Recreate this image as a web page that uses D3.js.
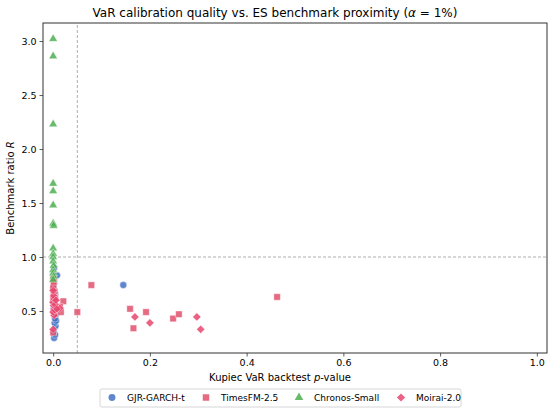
<!DOCTYPE html>
<html lang="en">
<head>
    <meta charset="UTF-8">
    <title>VaR calibration vs ES benchmark proximity</title>
    <script src="https://d3js.org/d3.v7.min.js"></script>
    <style>
        body { margin: 0; background: #fff; }
        svg { font-family: "DejaVu Sans", sans-serif; }
    </style>
</head>
<body>
<div id="chart"></div>
<script>
    // [Kupiec p-value, benchmark ratio R] per model
    const garchPoints = [
        [0.002, 0.25], [0.004, 0.28], [0.001, 0.31], [0.005, 0.36], [0.003, 0.39],
        [0.006, 0.41], [0.004, 0.43], [0.006, 0.47], [0.001, 0.52], [0.003, 0.55],
        [0.000, 0.58], [0.002, 0.62], [0.004, 0.66], [0.001, 0.72], [0.002, 0.90],
        [0.008, 0.83], [0.145, 0.74]
    ];
    const timesfmPoints = [
        [0.463, 0.63], [0.079, 0.74], [0.050, 0.49], [0.159, 0.52], [0.192, 0.49],
        [0.166, 0.34], [0.248, 0.43], [0.260, 0.47], [0.021, 0.59], [0.014, 0.54],
        [0.016, 0.49], [0.000, 0.80], [0.002, 0.77], [0.001, 0.74], [0.000, 0.71],
        [0.003, 0.68], [0.001, 0.65], [0.004, 0.62], [0.000, 0.60], [0.002, 0.57],
        [0.005, 0.53], [0.001, 0.50], [0.003, 0.47], [0.000, 0.30]
    ];
    const chronosPoints = [
        [0.000, 3.02], [0.000, 2.86], [0.000, 2.23], [0.000, 1.68], [0.000, 1.61],
        [0.000, 1.48], [0.000, 1.31], [0.001, 1.29], [0.000, 1.08], [0.000, 1.03],
        [0.000, 1.00], [0.000, 0.96], [0.001, 0.92], [0.000, 0.88], [0.000, 0.85],
        [0.001, 0.82], [0.000, 0.79]
    ];
    const moiraiPoints = [
        [0.169, 0.445], [0.200, 0.39], [0.297, 0.445], [0.305, 0.33], [0.014, 0.525],
        [0.000, 0.33], [0.002, 0.46], [0.000, 0.49], [0.003, 0.51],
        [0.001, 0.55], [0.000, 0.58], [0.002, 0.61], [0.001, 0.64], [0.000, 0.69],
        [0.004, 0.56], [0.008, 0.52], [0.006, 0.60]
    ];

    const modelNames = ["GJR-GARCH-t", "TimesFM-2.5", "Chronos-Small", "Moirai-2.0"];
    const xTicks = [0.0, 0.2, 0.4, 0.6, 0.8, 1.0];
    const yTicks = [0.5, 1.0, 1.5, 2.0, 2.5, 3.0];
    const pThreshold = 0.05;
    const ratioThreshold = 1.0;

    const series = [
        {name: modelNames[0], points: garchPoints, color: "#4472c4", shape: d3.symbolCircle, size: 38, rot: 0},
        {name: modelNames[1], points: timesfmPoints, color: "#e0506c", shape: d3.symbolSquare, size: 42, rot: 0},
        {name: modelNames[2], points: chronosPoints, color: "#4caf50", shape: d3.symbolTriangle, size: 32, rot: 0},
        {name: modelNames[3], points: moiraiPoints, color: "#e8466e", shape: d3.symbolSquare, size: 34, rot: 45}
    ];

    const width = 550, height = 410;
    const margin = {top: 23, right: 3, bottom: 57, left: 43};

    const svg = d3.select("#chart").append("svg")
        .attr("width", width)
        .attr("height", height);

    const x = d3.scaleLinear().domain([-0.021, 1.021]).range([margin.left, width - margin.right]);
    const y = d3.scaleLinear().domain([0.111, 3.167]).range([height - margin.bottom, margin.top]);

    // reference lines
    svg.append("line")
        .attr("x1", x(pThreshold)).attr("x2", x(pThreshold))
        .attr("y1", y.range()[0]).attr("y2", y.range()[1])
        .attr("stroke", "#999").attr("stroke-width", 0.8).attr("stroke-dasharray", "3,2");
    svg.append("line")
        .attr("x1", x.range()[0]).attr("x2", x.range()[1])
        .attr("y1", y(ratioThreshold)).attr("y2", y(ratioThreshold))
        .attr("stroke", "#999").attr("stroke-width", 0.8).attr("stroke-dasharray", "3,2");

    // points
    series.forEach(s => {
        svg.append("g")
            .selectAll("path")
            .data(s.points)
            .join("path")
            .attr("d", d3.symbol().type(s.shape).size(s.size))
            .attr("transform", d => `translate(${x(d[0])},${y(d[1])}) rotate(${s.rot})`)
            .attr("fill", s.color)
            .attr("fill-opacity", 0.85)
            .attr("stroke", "#fff")
            .attr("stroke-width", 0.4);
    });

    // axes
    const xAxis = svg.append("g")
        .attr("transform", `translate(0,${height - margin.bottom})`)
        .call(d3.axisBottom(x).tickValues(xTicks).tickFormat(d3.format(".1f")).tickSize(3.5).tickPadding(3));
    const yAxis = svg.append("g")
        .attr("transform", `translate(${margin.left},0)`)
        .call(d3.axisLeft(y).tickValues(yTicks).tickFormat(d3.format(".1f")).tickSize(3.5).tickPadding(3));

    [xAxis, yAxis].forEach(a => {
        a.select(".domain").remove();
        a.selectAll(".tick line").attr("stroke", "#333").attr("stroke-width", 0.8);
        a.selectAll(".tick text").attr("fill", "#000").style("font-size", "9.5px").style("font-family", "DejaVu Sans");
    });

    // frame
    svg.append("rect")
        .attr("x", margin.left).attr("y", margin.top)
        .attr("width", width - margin.left - margin.right)
        .attr("height", height - margin.top - margin.bottom)
        .attr("fill", "none").attr("stroke", "#333").attr("stroke-width", 1);

    // title and labels
    const title = svg.append("text")
        .attr("x", 275).attr("y", 17)
        .attr("text-anchor", "middle")
        .style("font-size", "12px");
    title.append("tspan").text("VaR calibration quality vs. ES benchmark proximity (");
    title.append("tspan").attr("font-style", "italic").text("α");
    title.append("tspan").text(" = 1%)");

    const xLabel = svg.append("text")
        .attr("x", 280).attr("y", 381)
        .attr("text-anchor", "middle")
        .style("font-size", "10px");
    xLabel.append("tspan").text("Kupiec VaR backtest ");
    xLabel.append("tspan").attr("font-style", "italic").text("p");
    xLabel.append("tspan").text("-value");

    const yLabel = svg.append("text")
        .attr("transform", `translate(14,${(margin.top + height - margin.bottom) / 2}) rotate(-90)`)
        .attr("text-anchor", "middle")
        .style("font-size", "10px");
    yLabel.append("tspan").text("Benchmark ratio ");
    yLabel.append("tspan").attr("font-style", "italic").text("R");

    // legend
    const legend = svg.append("g");
    legend.append("rect")
        .attr("x", 100).attr("y", 389)
        .attr("width", 361).attr("height", 18)
        .attr("rx", 2)
        .attr("fill", "#fff").attr("stroke", "#ccc").attr("stroke-width", 0.8);
    const legendX = [112, 206, 299, 401];
    series.forEach((s, i) => {
        legend.append("path")
            .attr("d", d3.symbol().type(s.shape).size(s.size))
            .attr("transform", `translate(${legendX[i]},397.5) rotate(${s.rot})`)
            .attr("fill", s.color).attr("fill-opacity", 0.85);
        legend.append("text")
            .attr("x", legendX[i] + 15).attr("y", 397.5)
            .attr("dy", "0.35em")
            .style("font-size", "9px")
            .text(s.name);
    });
</script>
</body>
</html>
